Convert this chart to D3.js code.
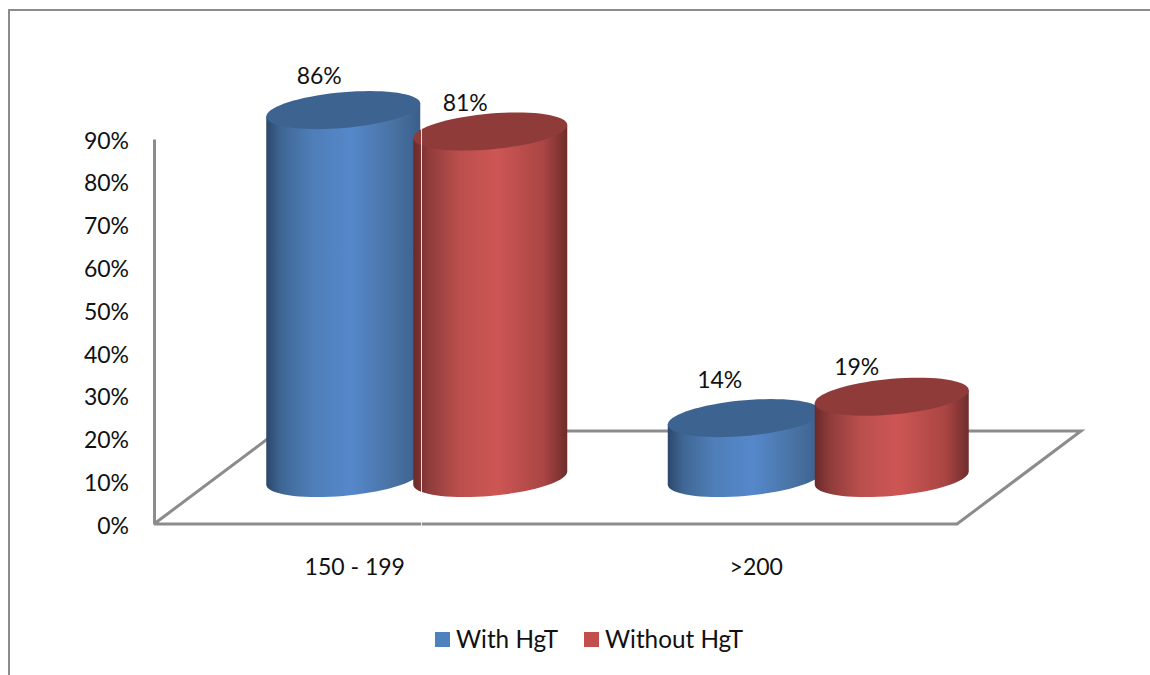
<!DOCTYPE html>
<html>
<head>
<meta charset="utf-8">
<style>
  html, body { margin: 0; padding: 0; background: #fff; }
  svg { display: block; }
  text { font-family: Lato, "Open Sans", sans-serif; fill: #111; }
</style>
<script src="https://cdn.jsdelivr.net/npm/d3@7"></script>
</head>
<body>
<svg id="chart" width="1150" height="675"></svg>
<script>
// Share of patients in each group, per range
const categories = ["150 - 199", ">200"];
const seriesNames = ["With HgT", "Without HgT"];
const withHgT = [86, 14];
const withoutHgT = [81, 19];
const yTicks = [0, 10, 20, 30, 40, 50, 60, 70, 80, 90];

const svg = d3.select("#chart");
const gray = "#8c8c8c";
const fontSize = 23;
const legendFontSize = 24.3;

// Pseudo-3D layout: the back of the floor is offset from its front edge
const plot = { left: 154, right: 957, bottom: 524, top: 139 };
const floorDepth = { dx: 124, dy: 93 };
const barShift = 62;      // cylinders stand mid-way into the floor
const barLift = 46;
const rx = 77;            // cylinder radius across the page
const skew = 6.5;         // tilt of the elliptical caps
const ry = 17.9;

const x0 = d3.scaleBand().domain(categories).range([plot.left, plot.right]);
const x1 = d3.scaleBand().domain(seriesNames).range([-147, 147]);
const y = d3.scaleLinear().domain([0, 90]).range([plot.bottom, plot.top]);

const palette = [
  { id: "blue", cap: "#3d6391", swatch: "#4f81bd",
    stops: [[0, "#2c486b"], [0.1, "#3f6795"], [0.3, "#4f7eb8"], [0.55, "#5588cb"], [0.85, "#47709f"], [1, "#3a5f8c"]] },
  { id: "red", cap: "#8f3b39", swatch: "#c0504d",
    stops: [[0, "#6a2a29"], [0.1, "#8f3c3b"], [0.3, "#bb4f4d"], [0.54, "#cd5654"], [0.85, "#a94543"], [1, "#6e2d2c"]] }
];

const defs = svg.append("defs");
palette.forEach(p => {
  const g = defs.append("linearGradient").attr("id", "side-" + p.id)
    .attr("x1", 0).attr("x2", 1).attr("y1", 0).attr("y2", 0);
  g.selectAll("stop").data(p.stops).join("stop")
    .attr("offset", d => d[0]).attr("stop-color", d => d[1]);
});

// Chart frame: top and left edges only
svg.append("path")
  .attr("d", "M9,675V10H1150")
  .attr("fill", "none").attr("stroke", gray).attr("stroke-width", 2);

// Floor outline, drawn behind the cylinders
const floorLine = d3.line();
const backY = plot.bottom - floorDepth.dy;
svg.append("path")
  .attr("d", floorLine([
    [plot.left, plot.bottom],
    [plot.left + floorDepth.dx, backY],
    [plot.right + floorDepth.dx, backY],
    [plot.right, plot.bottom],
    [plot.left, plot.bottom]
  ]))
  .attr("fill", "none").attr("stroke", gray).attr("stroke-width", 3)
  .attr("stroke-linejoin", "miter");

// Value axis
const yAxis = d3.axisLeft(y)
  .tickValues(yTicks)
  .tickSize(0)
  .tickPadding(25)
  .tickFormat(d => d + "%");
const axisG = svg.append("g")
  .attr("transform", `translate(${plot.left},0)`)
  .call(yAxis);
axisG.select(".domain")
  .attr("stroke", gray).attr("stroke-width", 3);
axisG.selectAll("text")
  .attr("font-size", fontSize)
  .style("font-family", "Lato, 'Open Sans', sans-serif")
  .attr("fill", "#111")
  .attr("dy", "0.4em");

// Category labels
svg.append("g").selectAll("text").data(categories).join("text")
  .attr("x", d => x0(d) + x0.bandwidth() / 2)
  .attr("y", 575)
  .attr("text-anchor", "middle")
  .attr("font-size", fontSize)
  .text(d => d);

// Outline helpers for the tilted ellipse
const capPoint = (cx, cy, t) => [
  cx + rx * Math.cos(t),
  cy - skew * Math.cos(t) + ry * Math.sin(t)
];
const steps = d3.range(0, 73);
const capPath = (cx, cy) =>
  d3.line()(steps.map(i => capPoint(cx, cy, i * 2 * Math.PI / 72))) + "Z";
const sidePath = (cx, topY, baseY) => {
  const arc = d3.range(0, 37).map(i => capPoint(cx, baseY, i * Math.PI / 36));
  return d3.line()([capPoint(cx, topY, 0), ...arc, capPoint(cx, topY, Math.PI)]) + "Z";
};

// Cylinders, with the second series overlapping the first
const valueSets = [withHgT, withoutHgT];
const baseY = y(0) - barLift;
const labelNudge = [[[-24, -34], [-25, -38]], [[-25, -29], [-35, -30]]];

const bars = [];
valueSets.forEach((vals, s) => {
  vals.forEach((v, c) => {
    bars.push({ s, c, v,
      cx: x0(categories[c]) + x0.bandwidth() / 2 + barShift
          + x1(seriesNames[s]) + x1.bandwidth() / 2,
      topY: baseY - (y(0) - y(v)) });
  });
});
bars.sort((a, b) => a.c - b.c || a.s - b.s);

const barG = svg.append("g").selectAll("g").data(bars).join("g");
barG.append("path")
  .attr("d", d => sidePath(d.cx, d.topY, baseY))
  .attr("fill", d => `url(#side-${palette[d.s].id})`);
barG.append("path")
  .attr("d", d => capPath(d.cx, d.topY))
  .attr("fill", d => palette[d.s].cap);

// Hairline seam that crosses the first red cylinder and the floor edge
svg.append("line")
  .attr("x1", 421.5).attr("x2", 421.5).attr("y1", 128).attr("y2", 526)
  .attr("stroke", "#fff").attr("stroke-width", 1).attr("opacity", 0.85);

// Value labels above the cylinders
svg.append("g").selectAll("text").data(bars).join("text")
  .attr("x", d => d.cx + labelNudge[d.s][d.c][0])
  .attr("y", d => d.topY + labelNudge[d.s][d.c][1] + 8)
  .attr("text-anchor", "middle")
  .attr("font-size", fontSize)
  .text(d => d.v + "%");

// Legend
const legendItems = [
  { name: seriesNames[0], x: 435 },
  { name: seriesNames[1], x: 584 }
];
const legend = svg.append("g").selectAll("g").data(legendItems).join("g")
  .attr("transform", d => `translate(${d.x},632)`);
legend.append("rect")
  .attr("width", 15).attr("height", 15)
  .attr("fill", (d, i) => palette[i].swatch);
legend.append("text")
  .attr("x", 21).attr("y", 16)
  .attr("font-size", legendFontSize)
  .text(d => d.name);
</script>
</body>
</html>
